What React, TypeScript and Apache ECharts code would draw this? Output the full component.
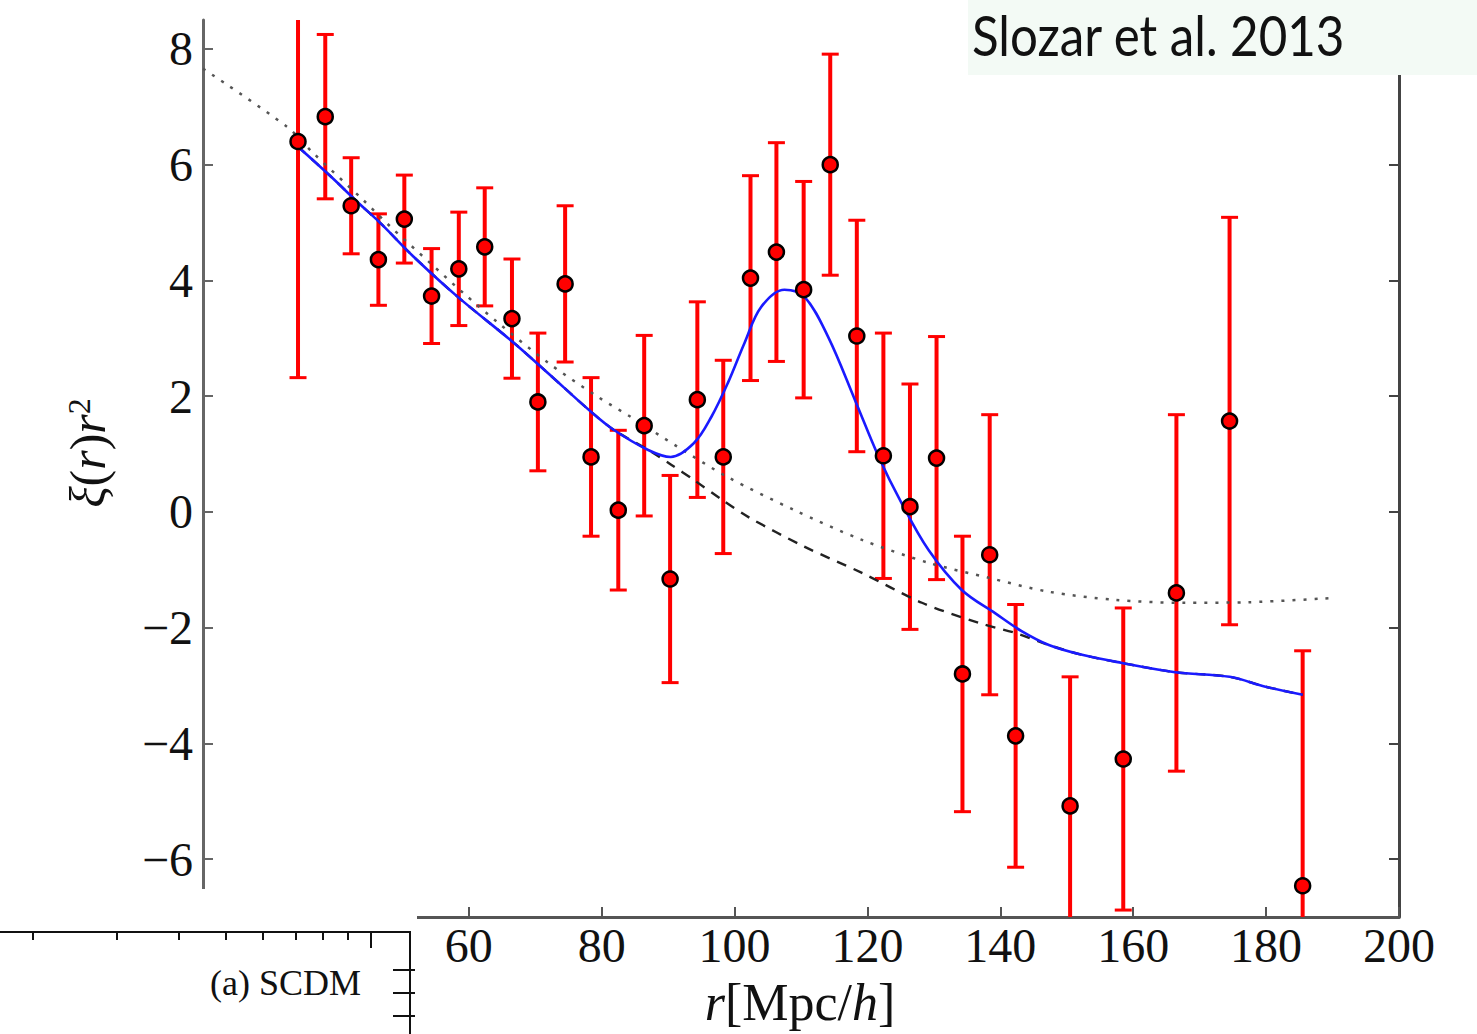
import React, { useEffect, useRef } from 'react';
import * as echarts from 'echarts';

// ---- Data points (r in Mpc/h, xi(r) r^2, 1-sigma error) ----
const pointR = [34.3, 38.4, 42.3, 46.4, 50.3, 54.4, 58.5, 62.4, 66.5, 70.4, 74.5, 78.4, 82.5, 86.4, 90.3, 94.4, 98.3,
  102.4, 106.3, 110.4, 114.4, 118.4, 122.4, 126.4, 130.4, 134.3, 138.4, 142.3, 150.5, 158.5, 166.5, 174.5, 185.5];
const pointXi = [6.40, 6.83, 5.29, 4.36, 5.06, 3.73, 4.20, 4.58, 3.34, 1.90, 3.94, 0.95, 0.03, 1.49, -1.16, 1.94, 0.95,
  4.04, 4.49, 3.84, 6.00, 3.04, 0.97, 0.09, 0.93, -2.80, -0.74, -3.87, -5.08, -4.27, -1.40, 1.57, -6.46];
const pointErr = [4.08, 1.42, 0.83, 0.79, 0.76, 0.82, 0.98, 1.02, 1.03, 1.19, 1.35, 1.37, 1.38, 1.56, 1.79, 1.69, 1.67,
  1.77, 1.89, 1.87, 1.91, 2.00, 2.12, 2.12, 2.10, 2.38, 2.42, 2.27, 2.23, 2.61, 3.08, 3.52, 4.06];

// ---- Best-fit model with BAO peak (blue) ----
const bluR = [34.3, 39.2, 43.2, 46.7, 51.7, 58.3, 66.8, 71.9, 78.4, 81.8, 87.0, 90.4, 93.9, 96.5, 99.0, 101.5, 104.0,
  107.5, 110.5, 114.1, 118.1, 121.7, 125.1, 129.2, 134.2, 139.2, 143.2, 147.3, 152.3, 158.3, 166.3, 174.5, 179.9, 185.5];
const bluXi = [6.31, 5.80, 5.36, 4.99, 4.41, 3.72, 2.92, 2.40, 1.73, 1.42, 1.07, 0.95, 1.19, 1.64, 2.23, 2.92, 3.54,
  3.84, 3.72, 3.02, 1.94, 0.95, 0.16, -0.66, -1.35, -1.75, -2.06, -2.30, -2.47, -2.61, -2.77, -2.85, -3.02, -3.16];

// ---- No-wiggle model (black dashed) ----
const dashR = [34.3, 39.2, 43.2, 46.7, 51.7, 58.3, 66.8, 71.9, 78.4, 81.8, 87.0, 90.4, 93.9, 98.0, 102.1, 110.5,
  119.1, 128.2, 136.8, 142.2, 147.3, 152.3, 158.3, 166.3, 174.5, 179.9, 185.5];
const dashXi = [6.31, 5.80, 5.36, 4.99, 4.41, 3.72, 2.92, 2.40, 1.73, 1.42, 1.07, 0.82, 0.55, 0.22, -0.09, -0.60,
  -1.05, -1.57, -1.92, -2.09, -2.30, -2.47, -2.61, -2.77, -2.85, -3.02, -3.16];

// ---- Alternative model (grey dotted) ----
const dotR = [20, 32.7, 36.6, 44.1, 48.2, 54.2, 59.2, 64.3, 71.9, 79.4, 84.4, 91.5, 99.0, 109.0, 119.1, 129.2,
  138.3, 147.3, 157.3, 167.4, 177.5, 189.6];
const dotXi = [7.66, 6.65, 6.20, 5.39, 4.93, 4.30, 3.78, 3.28, 2.58, 1.99, 1.64, 1.12, 0.60, 0.03, -0.48, -0.88,
  -1.14, -1.38, -1.52, -1.57, -1.56, -1.49];

// ---- Axis ticks ----
const yTicks = [-6, -4, -2, 0, 2, 4, 6, 8];
const xTicksShown = [60, 80, 100, 120, 140, 160, 180, 200];

const fmtMinus = (v: number) => (v < 0 ? '\u2212' + Math.abs(v) : String(v));

export default function App() {
  const ref = useRef<HTMLDivElement>(null);

  useEffect(() => {
    if (!ref.current) return;
    const chart = echarts.init(ref.current, null, { renderer: 'svg' });

    const serif = 'Liberation Serif';
    const pts = pointR.map((r, i) => [r, pointXi[i], pointErr[i]]);

    const fragTicks = [33, 117, 179, 226, 263, 296, 323, 348];
    const fragGraphics: any[] = [
      { type: 'rect', z: 100, shape: { x: 0, y: 889, width: 417, height: 145 }, style: { fill: '#ffffff' } },
      { type: 'line', z: 101, shape: { x1: 0, y1: 932, x2: 411, y2: 932 }, style: { stroke: '#111', lineWidth: 2 } },
      { type: 'line', z: 101, shape: { x1: 410, y1: 932, x2: 410, y2: 1034 }, style: { stroke: '#111', lineWidth: 2 } },
      { type: 'line', z: 101, shape: { x1: 371, y1: 932, x2: 371, y2: 948 }, style: { stroke: '#111', lineWidth: 2 } },
      ...fragTicks.map((x) => ({ type: 'line', z: 101, shape: { x1: x, y1: 932, x2: x, y2: 940 }, style: { stroke: '#111', lineWidth: 2 } })),
      ...[970, 993, 1016].map((y) => ({ type: 'line', z: 101, shape: { x1: 393, y1: y, x2: 415, y2: y }, style: { stroke: '#111', lineWidth: 2 } })),
      {
        type: 'text', z: 101, x: 210, y: 983,
        style: { text: '(a) SCDM', font: `36px "${serif}"`, fill: '#111', verticalAlign: 'middle', align: 'left' },
      },
    ];

    chart.setOption({
      animation: false,
      backgroundColor: '#ffffff',
      grid: { left: 203, right: 78, top: 20, bottom: 117, containLabel: false, outerBoundsMode: 'none' },
      xAxis: {
        type: 'value', min: 20, max: 200, interval: 20,
        axisLine: { show: true, onZero: false, lineStyle: { color: '#555', width: 3 } },
        axisTick: { show: true, inside: true, length: 10, lineStyle: { color: '#555', width: 2 } },
        axisLabel: {
          show: true, margin: 4, color: '#111', fontFamily: serif, fontSize: 48,
          formatter: (v: number) => (xTicksShown.indexOf(v) >= 0 ? String(v) : ''),
        },
        splitLine: { show: false },
      },
      yAxis: [
        {
          type: 'value', min: -7, max: 8.5, position: 'left',
          axisLine: { show: true, onZero: false, lineStyle: { color: '#666', width: 3 } },
          axisTick: { show: true, inside: true, length: 10, customValues: yTicks, lineStyle: { color: '#666', width: 2 } },
          axisLabel: { show: true, margin: 10, color: '#111', fontFamily: serif, fontSize: 48, customValues: yTicks, formatter: fmtMinus },
          splitLine: { show: false },
        },
        {
          type: 'value', min: -7, max: 8.5, position: 'right',
          axisLine: { show: true, onZero: false, lineStyle: { color: '#444', width: 3 } },
          axisTick: { show: true, inside: true, length: 10, customValues: yTicks, lineStyle: { color: '#444', width: 2 } },
          axisLabel: { show: false },
          splitLine: { show: false },
        },
      ],
      series: [
        {
          type: 'custom',
          name: 'errors',
          data: pts,
          encode: { x: 0, y: 1 },
          z: 2,
          renderItem: (params: any, api: any) => {
            const x = api.value(0);
            const y = api.value(1);
            const e = api.value(2);
            const cs = params.coordSys;
            const top = api.coord([x, y + e]);
            const bot = api.coord([x, y - e]);
            const yTop = Math.max(top[1], cs.y);
            const yBot = Math.min(bot[1], cs.y + cs.height);
            const children: any[] = [
              { type: 'line', shape: { x1: top[0], y1: yTop, x2: top[0], y2: yBot }, style: { stroke: '#ff0000', lineWidth: 4 } },
            ];
            if (top[1] >= cs.y) {
              children.push({ type: 'line', shape: { x1: top[0] - 8.5, y1: top[1], x2: top[0] + 8.5, y2: top[1] }, style: { stroke: '#ff0000', lineWidth: 3 } });
            }
            if (bot[1] <= cs.y + cs.height) {
              children.push({ type: 'line', shape: { x1: bot[0] - 8.5, y1: bot[1], x2: bot[0] + 8.5, y2: bot[1] }, style: { stroke: '#ff0000', lineWidth: 3 } });
            }
            return { type: 'group', children };
          },
        },
        {
          type: 'line', name: 'dotted', data: dotR.map((r, i) => [r, dotXi[i]]),
          showSymbol: false, smooth: 0.3, z: 3,
          lineStyle: { color: '#555', width: 2.5, type: [3, 8] },
        },
        {
          type: 'line', name: 'dashed', data: dashR.map((r, i) => [r, dashXi[i]]),
          showSymbol: false, smooth: 0.3, z: 3,
          lineStyle: { color: '#222', width: 2.4, type: [10, 8] },
        },
        {
          type: 'line', name: 'model', data: bluR.map((r, i) => [r, bluXi[i]]),
          showSymbol: false, smooth: 0.35, z: 4,
          lineStyle: { color: '#1a1aff', width: 2.6 },
        },
        {
          type: 'scatter', name: 'data', data: pts.map((p) => [p[0], p[1]]),
          symbol: 'circle', symbolSize: 15, z: 5,
          itemStyle: { color: '#ff0000', borderColor: '#000', borderWidth: 2.5, opacity: 1 },
        },
      ],
      graphic: [
        { type: 'rect', z: 100, shape: { x: 968, y: 0, width: 509, height: 75 }, style: { fill: '#f3faf5' } },
        {
          type: 'text', z: 101, x: 972, y: 34, scaleX: 0.88,
          style: { text: 'Slozar et al. 2013', font: '56px Lato', fill: '#111', verticalAlign: 'middle', align: 'left' },
        },
        {
          type: 'text', z: 101, x: 88, y: 453, rotation: Math.PI / 2,
          style: {
            text: '{i|\u03be}{n|(}{i|r}{n|)}{i|r}{s|2}',
            align: 'center', verticalAlign: 'middle', fill: '#111',
            rich: {
              i: { fontFamily: serif, fontStyle: 'italic', fontSize: 50, fill: '#111', verticalAlign: 'bottom' },
              n: { fontFamily: serif, fontSize: 50, fill: '#111', verticalAlign: 'bottom' },
              s: { fontFamily: serif, fontSize: 32, fill: '#111', verticalAlign: 'top' },
            },
          },
        },
        {
          type: 'text', z: 101, x: 800, y: 1002,
          style: {
            text: '{i|r}{n|[Mpc/}{i|h}{n|]}',
            align: 'center', verticalAlign: 'middle', fill: '#111',
            rich: {
              i: { fontFamily: serif, fontStyle: 'italic', fontSize: 52, fill: '#111' },
              n: { fontFamily: serif, fontSize: 52, fill: '#111' },
            },
          },
        },
        ...fragGraphics,
      ],
    });

    return () => chart.dispose();
  }, []);

  return <div ref={ref} style={{ position: 'fixed', left: 0, top: 0, width: 1477, height: 1034, background: '#fff' }} />;
}
